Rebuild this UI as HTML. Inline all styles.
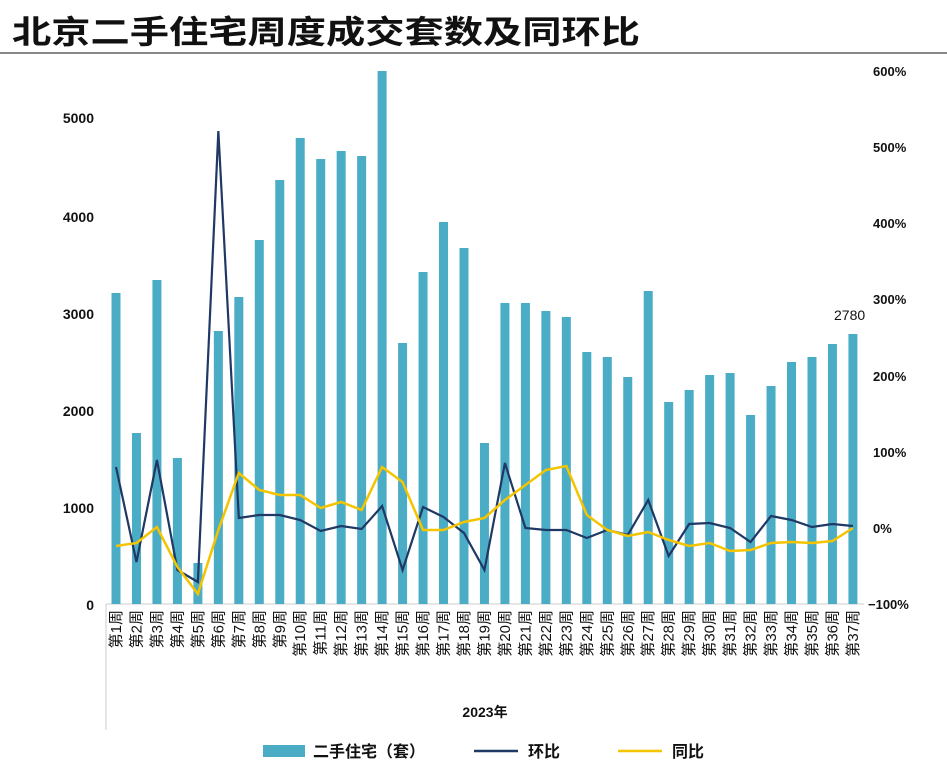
<!DOCTYPE html>
<html><head><meta charset="utf-8"><style>
body{margin:0;background:#fff;}
svg{display:block;font-family:"Liberation Sans","Noto Sans CJK SC",sans-serif;}
</style></head><body>
<svg id="c" width="947" height="775" viewBox="0 0 947 775" xmlns="http://www.w3.org/2000/svg">
<rect width="947" height="775" fill="#fff"/>
<text x="12" y="43" font-size="32" font-weight="bold" fill="#111" font-family="'Noto Sans CJK SC',sans-serif" textLength="628" lengthAdjust="spacingAndGlyphs">北京二手住宅周度成交套数及同环比</text>
<line x1="0" y1="53" x2="947" y2="53" stroke="#888" stroke-width="2"/>
<g font-size="14" font-weight="bold" fill="#111" text-anchor="end">
<text x="94" y="123">5000</text><text x="94" y="222">4000</text><text x="94" y="319">3000</text><text x="94" y="416">2000</text><text x="94" y="513">1000</text><text x="94" y="610">0</text>
</g>
<g font-size="13" font-weight="bold" fill="#111" text-anchor="start">
<text x="873" y="76">600%</text><text x="873" y="152">500%</text><text x="873" y="228">400%</text><text x="873" y="304">300%</text><text x="873" y="381">200%</text><text x="873" y="457">100%</text><text x="873" y="533">0%</text><text x="868" y="609">−100%</text>
</g>
<line x1="106" y1="604" x2="106" y2="730" stroke="#ccc"/>
<line x1="106" y1="604" x2="864" y2="604" stroke="#ccc"/>
<g id="bars" fill="#4bacc6"></g>
<g id="labels" font-size="15" fill="#111"></g>
<polyline id="hb" fill="none" stroke="#1f3864" stroke-width="2.2"/>
<polyline id="tb" fill="none" stroke="#f5c400" stroke-width="2.5"/>
<text x="834" y="320" font-size="14" fill="#111">2780</text>
<text x="485" y="717" font-size="14" font-weight="bold" fill="#111" text-anchor="middle">2023年</text>
<rect x="263" y="745" width="42" height="12" fill="#4bacc6"/>
<text x="313" y="757" font-size="16" font-weight="bold" fill="#111">二手住宅（套）</text>
<line x1="474" y1="751" x2="518" y2="751" stroke="#1f3864" stroke-width="2.5"/>
<text x="528" y="757" font-size="16" font-weight="bold" fill="#111">环比</text>
<line x1="618" y1="751" x2="662" y2="751" stroke="#f5c400" stroke-width="2.5"/>
<text x="672" y="757" font-size="16" font-weight="bold" fill="#111">同比</text>
</svg>
<script>
var tops=[293,433,280,458,563,331,297,240,180,138,159,151,156,71,343,272,222,248,443,303,303,311,317,352,357,377,291,402,390,375,373,415,386,362,357,344,334];
var hb=[467,562,460,570,582,131,518,515,515,520,531,526,529,506,570,507,517,533,570,463,528,530,530,538,530,535,500,556,524,523,528,542,516,520,527,524,526];
var tb=[546,543,527,567,594,530,473,490,495,495,508,502,510,467,482,530,530,522,518,500,485,470,466,515,530,536,532,540,546,543,551,550,543,542,543,541,528];
var ns="http://www.w3.org/2000/svg",B=document.getElementById('bars'),L=document.getElementById('labels');
var p1=[],p2=[];
for(var i=0;i<37;i++){var x=116+i*20.47;
var r=document.createElementNS(ns,'rect');r.setAttribute('x',x-4.5);r.setAttribute('y',tops[i]);r.setAttribute('width',9);r.setAttribute('height',604-tops[i]);B.appendChild(r);
var t=document.createElementNS(ns,'text');t.setAttribute('transform','translate('+(x+5)+',610) rotate(-90)');t.setAttribute('text-anchor','end');t.textContent='第'+(i+1)+'周';L.appendChild(t);
p1.push(x+','+hb[i]);p2.push(x+','+tb[i]);}
document.getElementById('hb').setAttribute('points',p1.join(' '));
document.getElementById('tb').setAttribute('points',p2.join(' '));
</script>
</body></html>
